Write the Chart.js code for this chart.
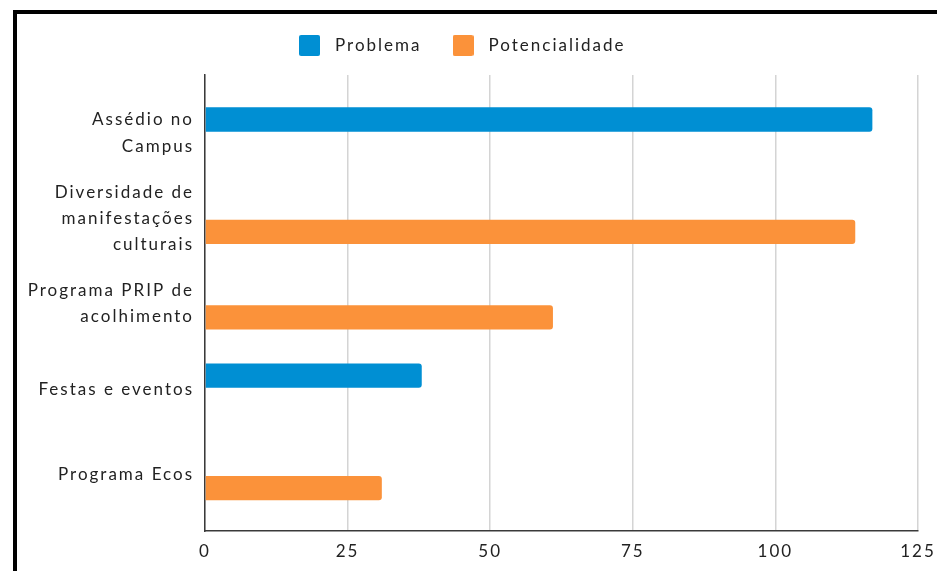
<!DOCTYPE html>
<html lang="pt">
<head>
<meta charset="utf-8">
<title>Problemas e potencialidades</title>
<script src="https://cdn.jsdelivr.net/npm/chart.js@4/dist/chart.umd.min.js"></script>
<style>
  html, body { margin: 0; padding: 0; background: #fff; overflow: hidden; }
  #wrap { position: relative; width: 937px; height: 571px; }
  #frame {
    position: absolute; left: 13px; top: 10px; width: 1000px; height: 700px;
    border-left: 4.5px solid #000; border-top: 4.5px solid #000;
  }
  #chart { position: absolute; left: 0; top: 0; }
</style>
</head>
<body>
<div id="wrap">
  <div id="frame"></div>
  <canvas id="chart" width="937" height="571"></canvas>
</div>
<script>
// Categories (top to bottom) and values per series
const categories = [
  ['Assédio no', 'Campus'],
  ['Diversidade de', 'manifestações', 'culturais'],
  ['Programa PRIP de', 'acolhimento'],
  ['Festas e eventos'],
  ['Programa Ecos']
];
const seriesNames = ['Problema', 'Potencialidade'];
// index of the category each value belongs to, and the value itself
const problemaIndex = [0, 3];
const problemaValues = [117, 38];
const potencialidadeIndex = [1, 2, 4];
const potencialidadeValues = [114, 61, 31];
const xTicks = [0, 25, 50, 75, 100, 125];

const BLUE = 'rgb(0,143,211)';
const ORANGE = 'rgb(251,146,58)';
const TEXT = '#222222';
const FONT = 'Lato, "Open Sans", sans-serif';

function points(idx, vals) {
  return idx.map((c, i) => ({ x: vals[i], y: c }));
}

// square legend swatch
function swatch(color) {
  const c = document.createElement('canvas');
  c.width = 21; c.height = 21;
  const g = c.getContext('2d');
  g.fillStyle = color;
  g.beginPath();
  g.roundRect(0, 0, 21, 21, 2);
  g.fill();
  return c;
}
const swatches = [swatch(BLUE), swatch(ORANGE)];

// spaced-out lettering for all text
const spacing = {
  id: 'spacing',
  beforeUpdate(chart) { chart.ctx.letterSpacing = '2px'; },
  beforeRender(chart) { chart.ctx.letterSpacing = '2px'; }
};

new Chart(document.getElementById('chart'), {
  type: 'bar',
  data: {
    datasets: [
      { label: seriesNames[0], data: points(problemaIndex, problemaValues),
        backgroundColor: BLUE, xAxisID: 'x', yAxisID: 'y' },
      { label: seriesNames[1], data: points(potencialidadeIndex, potencialidadeValues),
        backgroundColor: ORANGE, xAxisID: 'x', yAxisID: 'y' }
    ]
  },
  options: {
    indexAxis: 'y',
    responsive: false,
    animation: false,
    categoryPercentage: 0.632,
    barPercentage: 0.9,
    borderRadius: 3,
    layout: { padding: { left: 0, right: 19, top: 12.5, bottom: 0 } },
    plugins: {
      tooltip: { enabled: false },
      legend: {
        position: 'top',
        align: 'center',
        labels: {
          usePointStyle: true,
          pointStyleWidth: 34,
          padding: 24.5,
          color: TEXT,
          font: { family: FONT, size: 17 },
          generateLabels(chart) {
            const items = Chart.defaults.plugins.legend.labels.generateLabels(chart);
            items.forEach(it => { it.pointStyle = swatches[it.datasetIndex]; });
            return items;
          }
        }
      }
    },
    scales: {
      xTop: {
        type: 'linear',
        position: 'top',
        display: true,
        grid: { display: false, drawTicks: false },
        border: { display: false },
        ticks: { display: false },
        afterFit(s) { s.height = 11; s.paddingLeft = 0; s.paddingRight = 0; }
      },
      x: {
        type: 'linear',
        position: 'bottom',
        min: 0,
        max: 125,
        afterBuildTicks(s) { s.ticks = xTicks.map(v => ({ value: v })); },
        grid: { color: '#d4d4d4', lineWidth: 1.5, drawTicks: false },
        border: { display: true, color: '#3a3a3a', width: 1.5 },
        ticks: { color: TEXT, padding: 10, font: { family: FONT, size: 17 } },
        afterFit(s) { s.height = 40; s.paddingLeft = 0; s.paddingRight = 0; }
      },
      y: {
        type: 'linear',
        reverse: true,
        offset: false,
        min: -0.679,
        max: 4.66,
        afterBuildTicks(s) { s.ticks = categories.map((_, i) => ({ value: i })); },
        grid: { display: false, drawTicks: false, offset: false },
        border: { display: true, color: '#3a3a3a', width: 1.5 },
        ticks: {
          color: TEXT,
          padding: 11,
          font: { family: FONT, size: 17, lineHeight: 1.55 },
          callback: v => categories[v]
        },
        afterFit(s) { s.width = 205; }
      }
    }
  },
  plugins: [spacing]
});
</script>
</body>
</html>
